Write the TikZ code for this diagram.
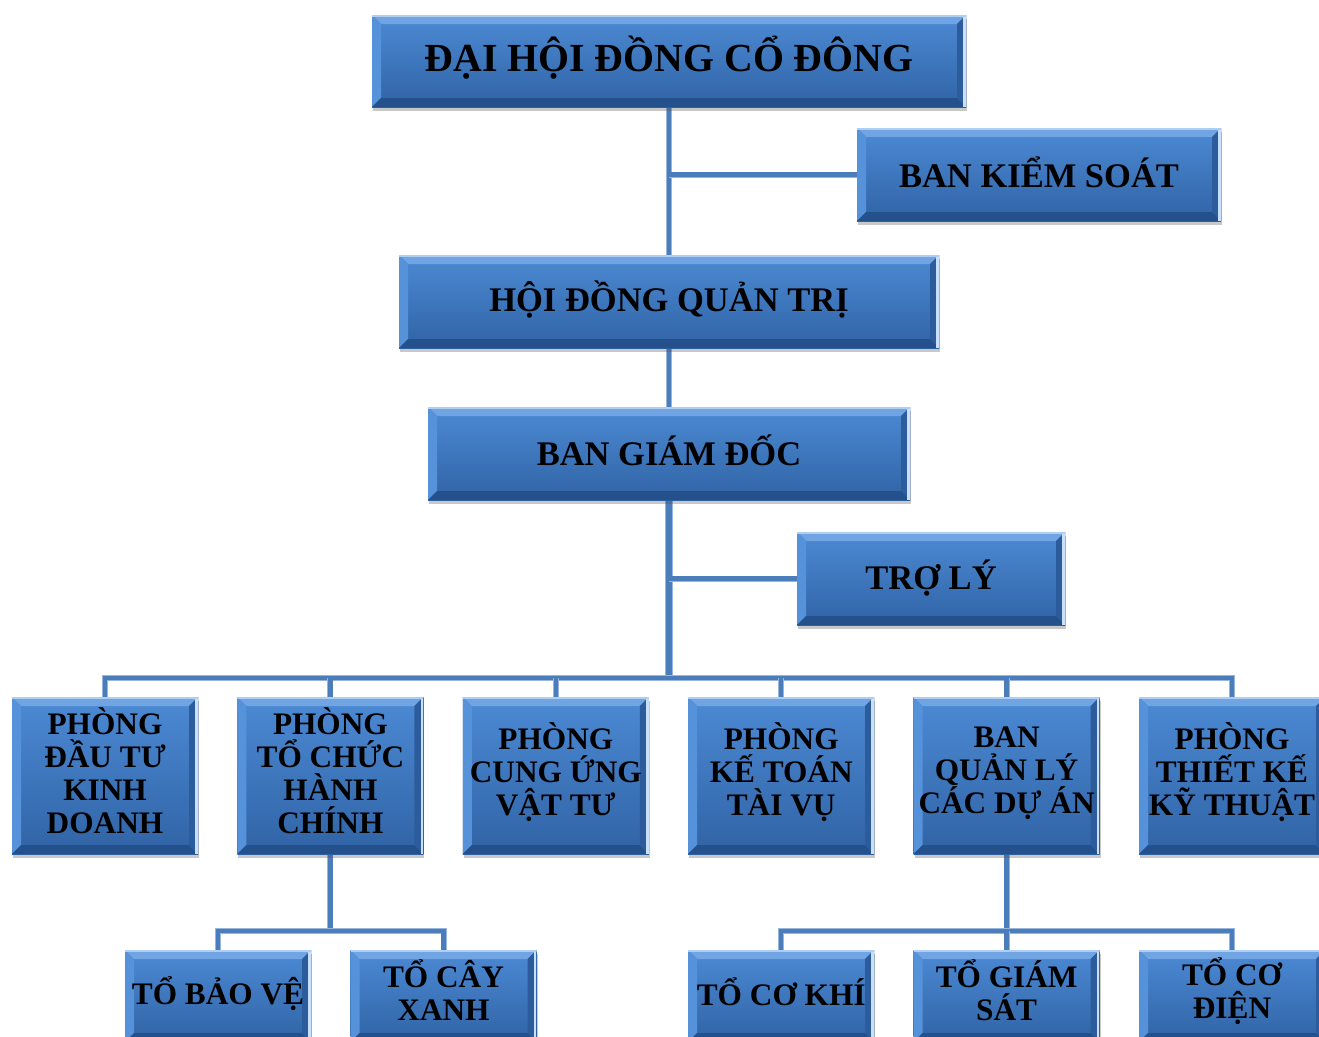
\documentclass[tikz,border=0pt]{standalone}
\usepackage{fontspec}
\setmainfont{Liberation Serif}
\usetikzlibrary{backgrounds,shadows}
\definecolor{facetop}{RGB}{76,138,212}
\definecolor{facebot}{RGB}{48,99,165}
\definecolor{bevtopc}{RGB}{112,164,226}
\definecolor{bevleftc}{RGB}{86,146,218}
\definecolor{bevbotc}{RGB}{36,80,140}
\definecolor{bevrightc}{RGB}{44,92,155}
\definecolor{hilitec}{RGB}{200,224,250}
\definecolor{conninner}{RGB}{76,125,187}
\definecolor{connedge}{RGB}{150,182,224}
\pgfdeclarelayer{back0}
\pgfsetlayers{back0,background,main}
\tikzset{
  bevelbox/.style={rectangle, inner sep=0pt, align=center, text=black,
    top color=facetop, bottom color=facebot, draw=none,
    drop shadow={shadow xshift=1pt, shadow yshift=-4pt, opacity=.3, fill=black!70},
    path picture={
      \path (path picture bounding box.north west) coordinate (ppnw)
            (path picture bounding box.north east) coordinate (ppne)
            (path picture bounding box.south west) coordinate (ppsw)
            (path picture bounding box.south east) coordinate (ppse);
      \fill[bevtopc] (ppnw) -- (ppne) -- ([shift={(-9pt,-9pt)}]ppne) -- ([shift={(9pt,-9pt)}]ppnw) -- cycle;
      \fill[bevleftc] (ppnw) -- ([shift={(9pt,-9pt)}]ppnw) -- ([shift={(9pt,9pt)}]ppsw) -- (ppsw) -- cycle;
      \fill[bevbotc] (ppsw) -- ([shift={(9pt,9pt)}]ppsw) -- ([shift={(-9pt,9pt)}]ppse) -- (ppse) -- cycle;
      \fill[bevrightc] (ppne) -- ([shift={(-9pt,-9pt)}]ppne) -- ([shift={(-9pt,9pt)}]ppse) -- (ppse) -- cycle;
      \draw[hilitec, line width=2.5pt] ([xshift=-1.5pt]ppne) -- ([xshift=-1.5pt]ppse);
      \draw[hilitec!70!bevtopc, line width=1.5pt] ([yshift=-1pt]ppnw) -- ([yshift=-1pt]ppne);
    }},
  lbl/.style={align=center, text=black, inner sep=0pt},
  bigtxt/.style={lbl, font=\fontsize{39.8}{42}\selectfont\bfseries},
  midtxt/.style={lbl, font=\fontsize{34.5}{37}\selectfont\bfseries},
  smalltxt/.style={lbl, font=\fontsize{31.3}{33}\selectfont\bfseries},
  rowbox/.style={bevelbox, minimum width=186pt, minimum height=157pt},
  subbox/.style={bevelbox, minimum width=186pt, minimum height=92pt},
  conn/.style={draw=conninner, line width=4.5pt, preaction={draw=connedge, line width=6pt}},
  trunk/.style={draw=conninner, line width=6.5pt, preaction={draw=connedge, line width=8pt}}
}
\begin{document}
\begin{tikzpicture}[x=1pt,y=-1pt]
\useasboundingbox (0,0) rectangle (1319,1036);
\clip (0,0) rectangle (1319,1036);
\begin{pgfonlayer}{back0}
\fill[white] (0,0) rectangle (1319,1036);
\end{pgfonlayer}
% top levels
\node[bevelbox, minimum width=594pt, minimum height=92pt,
  label={[bigtxt, yshift=3pt]center:ĐẠI HỘI ĐỒNG CỔ ĐÔNG}] (dh) at (669,61) {};
\node[bevelbox, minimum width=364pt, minimum height=93pt,
  label={[midtxt, yshift=2pt]center:BAN KIỂM SOÁT}] (bks) at (1039,174.5) {};
\node[bevelbox, minimum width=540pt, minimum height=93pt,
  label={[midtxt, yshift=2pt]center:HỘI ĐỒNG QUẢN TRỊ}] (hd) at (669,301.5) {};
\node[bevelbox, minimum width=482pt, minimum height=93pt,
  label={[midtxt, yshift=3pt]center:BAN GIÁM ĐỐC}] (bgd) at (669,453.5) {};
\node[bevelbox, minimum width=268pt, minimum height=93pt,
  label={[midtxt]center:TRỢ LÝ}] (tl) at (931,578.5) {};
% departments
\node[rowbox, label={[smalltxt, yshift=5pt]center:{PHÒNG\\ĐẦU TƯ\\KINH\\DOANH}}] (pA) at (105,775.5) {};
\node[rowbox, label={[smalltxt, yshift=5pt]center:{PHÒNG\\TỔ CHỨC\\HÀNH\\CHÍNH}}] (pB) at (330.4,775.5) {};
\node[rowbox, label={[smalltxt, yshift=3pt]center:{PHÒNG\\CUNG ỨNG\\VẬT TƯ}}] (pC) at (555.8,775.5) {};
\node[rowbox, label={[smalltxt, yshift=3pt]center:{PHÒNG\\KẾ TOÁN\\TÀI VỤ}}] (pD) at (781.2,775.5) {};
\node[rowbox, label={[smalltxt, yshift=2pt]center:{BAN\\QUẢN LÝ\\CÁC DỰ ÁN}}] (pE) at (1006.6,775.5) {};
\node[rowbox, label={[smalltxt, yshift=3pt]center:{PHÒNG\\THIẾT KẾ\\KỸ THUẬT}}] (pF) at (1232,775.5) {};
% teams
\node[subbox, label={[smalltxt, yshift=2pt]center:TỔ BẢO VỆ}] (tA) at (218,996) {};
\node[subbox, label={[smalltxt, yshift=6pt]center:{TỔ CÂY\\XANH}}] (tB) at (443.5,996) {};
\node[subbox, label={[smalltxt, yshift=4pt]center:TỔ CƠ KHÍ}] (tC) at (781.2,996) {};
\node[subbox, label={[smalltxt, yshift=6pt]center:{TỔ GIÁM\\SÁT}}] (tD) at (1006.6,996) {};
\node[subbox, label={[smalltxt, yshift=5pt]center:{TỔ CƠ\\ĐIỆN}}] (tE) at (1232,996) {};
% junction coordinates
\coordinate (bus) at (669,678);
\coordinate (subL) at (330.4,931);
\coordinate (subR) at (1006.6,931);
\begin{scope}[on background layer]
\draw[conn] (dh.south) -- (hd.north);
\draw[conn] (bks.west) -- (bks.west -| dh.south);
\draw[conn] (hd.south) -- (bgd.north);
\draw[trunk] (bgd.south) -- (bus);
\draw[conn] (tl.west) -- (tl.west -| bgd.south);
\draw[conn] (pA.north) |- (bus) -| (pF.north);
\draw[conn] (pB.north) -- (pB.north |- bus);
\draw[conn] (pC.north) -- (pC.north |- bus);
\draw[conn] (pD.north) -- (pD.north |- bus);
\draw[conn] (pE.north) -- (pE.north |- bus);
\draw[conn] (pB.south) -- (subL);
\draw[conn] (tA.north) |- (subL) -| (tB.north);
\draw[conn] (pE.south) -- (subR);
\draw[conn] (tC.north) |- (subR) -| (tE.north);
\draw[conn] (tD.north) -- (subR);
\end{scope}
\end{tikzpicture}
\end{document}
